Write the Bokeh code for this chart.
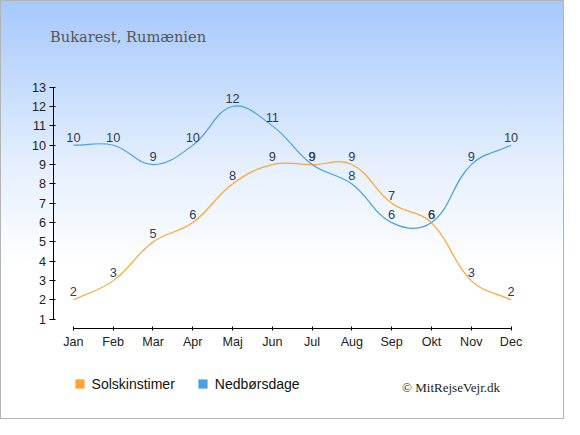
import math
from bokeh.plotting import figure
from bokeh.models import Range1d, FixedTicker, Label, Legend, LegendItem, ColumnDataSource
from bokeh.core.properties import value
from bokeh.embed import file_html
from bokeh.resources import INLINE

# ---- data ----
months = ["Jan", "Feb", "Mar", "Apr", "Maj", "Jun", "Jul", "Aug", "Sep", "Okt", "Nov", "Dec"]
sun_hours = [2, 3, 5, 6, 8, 9, 9, 9, 7, 6, 3, 2]
rain_days = [10, 10, 9, 10, 12, 11, 9, 8, 6, 6, 9, 10]
y_ticks = list(range(1, 14))
series_names = ["Solskinstimer", "Nedbørsdage"]
chart_title = "Bukarest, Rumænien"
credit = "© MitRejseVejr.dk"

# ---- layout (reference design is 580x435, scaled to fit) ----
W, H = 564, 419
KX, KY = W / 580, H / 435
JAN_PX, DEC_PX = 75 * KX, 525 * KX          # x pixel of first / last month
Y1_PX, Y13_PX = 331 * KY, 90 * KY           # y pixel of value 1 / 13
XAXIS_PX, YAXIS_PX = 341 * KY, 55 * KX      # axis line positions
px_x = (DEC_PX - JAN_PX) / 11
px_y = (Y1_PX - Y13_PX) / 12
X0 = -JAN_PX / px_x
X1 = X0 + W / px_x
Y0 = 1 - (H - Y1_PX) / px_y
Y1 = Y0 + H / px_y

ORANGE = "#ffa52e"
BLUE = "#4a9fe6"
LABEL_COLOR = "#2c3d5b"
SANS = "Liberation Sans"

xs = list(range(len(months)))


def spline_segments(ys, tension=0.4):
    pts = [(x * px_x, y * px_y) for x, y in zip(xs, ys)]
    n = len(pts)
    prev_cp, next_cp = [], []
    for i in range(n):
        p0 = pts[i - 1] if i > 0 else pts[i]
        p1 = pts[i]
        p2 = pts[i + 1] if i < n - 1 else pts[i]
        d01 = math.dist(p0, p1)
        d12 = math.dist(p1, p2)
        tot = d01 + d12
        s01 = d01 / tot if tot else 0
        s12 = d12 / tot if tot else 0
        fa, fb = tension * s01, tension * s12
        prev_cp.append((p1[0] - fa * (p2[0] - p0[0]), p1[1] - fa * (p2[1] - p0[1])))
        next_cp.append((p1[0] + fb * (p2[0] - p0[0]), p1[1] + fb * (p2[1] - p0[1])))
    d = dict(x0=[], y0=[], x1=[], y1=[], cx0=[], cy0=[], cx1=[], cy1=[])
    for i in range(n - 1):
        d["x0"].append(xs[i]); d["y0"].append(ys[i])
        d["x1"].append(xs[i + 1]); d["y1"].append(ys[i + 1])
        d["cx0"].append(next_cp[i][0] / px_x); d["cy0"].append(next_cp[i][1] / px_y)
        d["cx1"].append(prev_cp[i + 1][0] / px_x); d["cy1"].append(prev_cp[i + 1][1] / px_y)
    return ColumnDataSource(d)


p = figure(width=W, height=H, output_backend="svg", toolbar_location=None,
           x_range=Range1d(X0, X1), y_range=Range1d(Y0, Y1), min_border=0,
           min_border_left=0, min_border_right=0, min_border_top=0, min_border_bottom=0)
p.title.text = ""
p.title.visible = False
p.background_fill_color = None
p.border_fill_color = None
p.outline_line_color = None
p.grid.visible = False
p.styles = {
    "background": "linear-gradient(180deg, #a5c8fc 0%, #e6f0fe 40%, #ffffff 64%)",
    "box-shadow": "inset 0 0 0 1px #b4b4b4",
}

for ax in (p.xaxis, p.yaxis):
    ax.axis_line_color = "#000000"
    ax.major_tick_line_color = "#000000"
    ax.minor_tick_line_color = None
    ax.major_label_text_font = SANS
    ax.major_label_text_font_size = "12.6px"
    ax.major_label_text_color = "#222222"
    ax.major_label_standoff = 4

p.xaxis.ticker = FixedTicker(ticks=xs)
p.xaxis.major_label_overrides = {i: m for i, m in enumerate(months)}
p.xaxis.bounds = (xs[0], xs[-1])
p.xaxis.major_tick_in = 2
p.xaxis.major_tick_out = 2
p.xaxis.fixed_location = 1 - (XAXIS_PX - Y1_PX) / px_y

p.yaxis.ticker = FixedTicker(ticks=y_ticks)
p.yaxis.bounds = (y_ticks[0], y_ticks[-1])
p.yaxis.major_tick_in = 2
p.yaxis.major_tick_out = 4
p.yaxis.fixed_location = -(JAN_PX - YAXIS_PX) / px_x

for ys, col in ((sun_hours, ORANGE), (rain_days, BLUE)):
    src = spline_segments(ys)
    p.bezier(x0="x0", y0="y0", x1="x1", y1="y1", cx0="cx0", cy0="cy0", cx1="cx1", cy1="cy1",
             source=src, line_color=col, line_width=1.2)

for ys in (sun_hours, rain_days):
    p.text(x=xs, y=ys, text=[str(v) for v in ys], y_offset=-8.2,
           text_align="center", text_baseline="alphabetic",
           text_font=value(SANS), text_font_size="12.8px", text_color=LABEL_COLOR)

# legend swatches: zero-size markers on the series points (only the legend shows them)
r_sun = p.scatter(x=xs, y=sun_hours, marker="square", size=0, fill_color=ORANGE, line_color=None)
r_rain = p.scatter(x=xs, y=rain_days, marker="square", size=0, fill_color=BLUE, line_color=None)
GL = 23
legend = Legend(items=[LegendItem(label=series_names[0], renderers=[r_sun]),
                       LegendItem(label=series_names[1], renderers=[r_rain])],
                location=(81.3 * KX - GL / 2, H - (398.5 * KY + GL / 2)),
                orientation="horizontal",
                glyph_width=GL, glyph_height=GL, label_height=GL, label_standoff=1,
                spacing=16, padding=0, margin=0,
                background_fill_alpha=0, border_line_alpha=0,
                label_text_font=SANS, label_text_font_size="14px", label_text_color="#111111")
p.add_layout(legend)

p.add_layout(Label(x=51 * KX, y=H - 37.7 * KY, x_units="screen", y_units="screen", text=chart_title,
                   text_font="DejaVu Serif", text_font_size="14.6px", text_color="#555555",
                   text_baseline="alphabetic"))
p.add_layout(Label(x=413 * KX, y=H - 402 * KY, x_units="screen", y_units="screen", text=credit,
                   text_font="Liberation Serif", text_font_size="13px", text_color="#222222",
                   text_baseline="alphabetic"))

open("out.html", "w").write(file_html(p, INLINE))
